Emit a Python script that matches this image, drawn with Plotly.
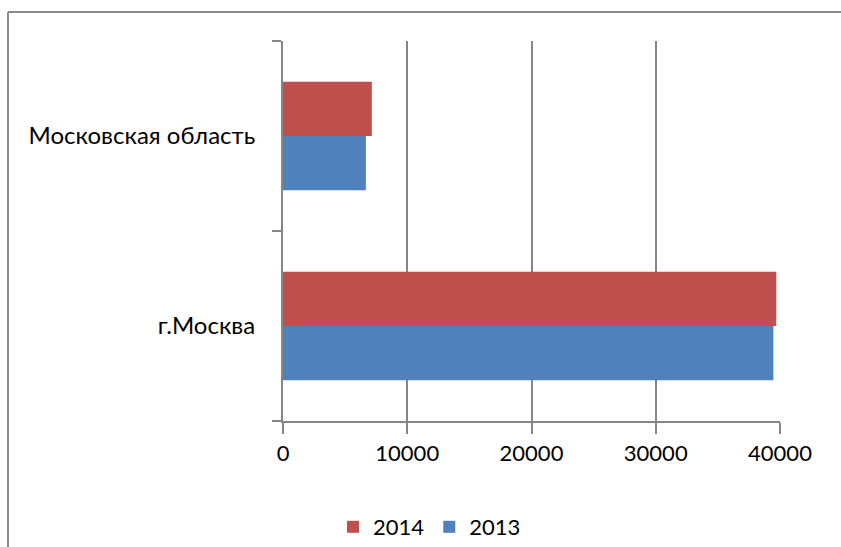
import plotly.graph_objects as go

regions = ["г.Москва", "Московская область"]
values_2013 = [39470, 6670]
values_2014 = [39700, 7150]

RED = "#C0504D"
BLUE = "#4F81BD"
AXIS = "#868686"
FONT = "Lato"

W, H = 841, 547

fig = go.Figure()
fig.add_trace(go.Bar(
    y=regions, x=values_2013, orientation="h", name="2013",
    marker=dict(color=BLUE, line=dict(width=0)),
))
fig.add_trace(go.Bar(
    y=regions, x=values_2014, orientation="h", name="2014",
    marker=dict(color=RED, line=dict(width=0)),
))

# plot area: x 283..780, y 41..421 (px)
L, R, T, B = 283, W - 780, 41, H - 421
pw, ph = 780 - 283, 421 - 41


def px(x):
    return (x - L) / pw


def py(y):
    return (421 - y) / ph


fig.update_layout(
    width=W, height=H,
    margin=dict(l=L, r=R, t=T, b=B),
    paper_bgcolor="white", plot_bgcolor="white",
    font=dict(family=FONT, size=22, color="#000000"),
    barmode="group", bargap=0.43, bargroupgap=0,
    xaxis=dict(
        range=[0, 40000], tickvals=[0, 10000, 20000, 30000, 40000],
        ticktext=["0", "10000", "20000", "30000", "40000"],
        showgrid=True, gridcolor=AXIS, gridwidth=1.5,
        showline=True, linecolor=AXIS, linewidth=2,
        ticks="outside", ticklen=11, tickcolor=AXIS, tickwidth=2,
        zeroline=False, ticklabelstandoff=1, automargin=False,
    ),
    yaxis=dict(
        type="category", tickson="boundaries",
        showgrid=False, showline=True, linecolor=AXIS, linewidth=2,
        ticks="outside", ticklen=9, tickcolor=AXIS, tickwidth=2,
        zeroline=False, ticklabelstandoff=21, automargin=False,
        tickfont=dict(size=24),
    ),
    showlegend=True,
    legend=dict(
        orientation="h", traceorder="reversed",
        xref="container", yref="container",
        x=333 / W, xanchor="left", y=(H - 527) / H, yanchor="middle",
        font=dict(size=22), itemwidth=30, bgcolor="rgba(0,0,0,0)",
    ),
    shapes=[
        dict(type="line", xref="paper", yref="paper",
             x0=px(8), x1=px(8), y0=py(560), y1=py(12),
             line=dict(color="#8c8c8c", width=2)),
        dict(type="line", xref="paper", yref="paper",
             x0=px(8), x1=px(860), y0=py(12), y1=py(12),
             line=dict(color="#8c8c8c", width=2)),
    ],
)

fig.write_html("out.html", config={"displayModeBar": False},
               post_script="document.body.style.margin='0px';")
